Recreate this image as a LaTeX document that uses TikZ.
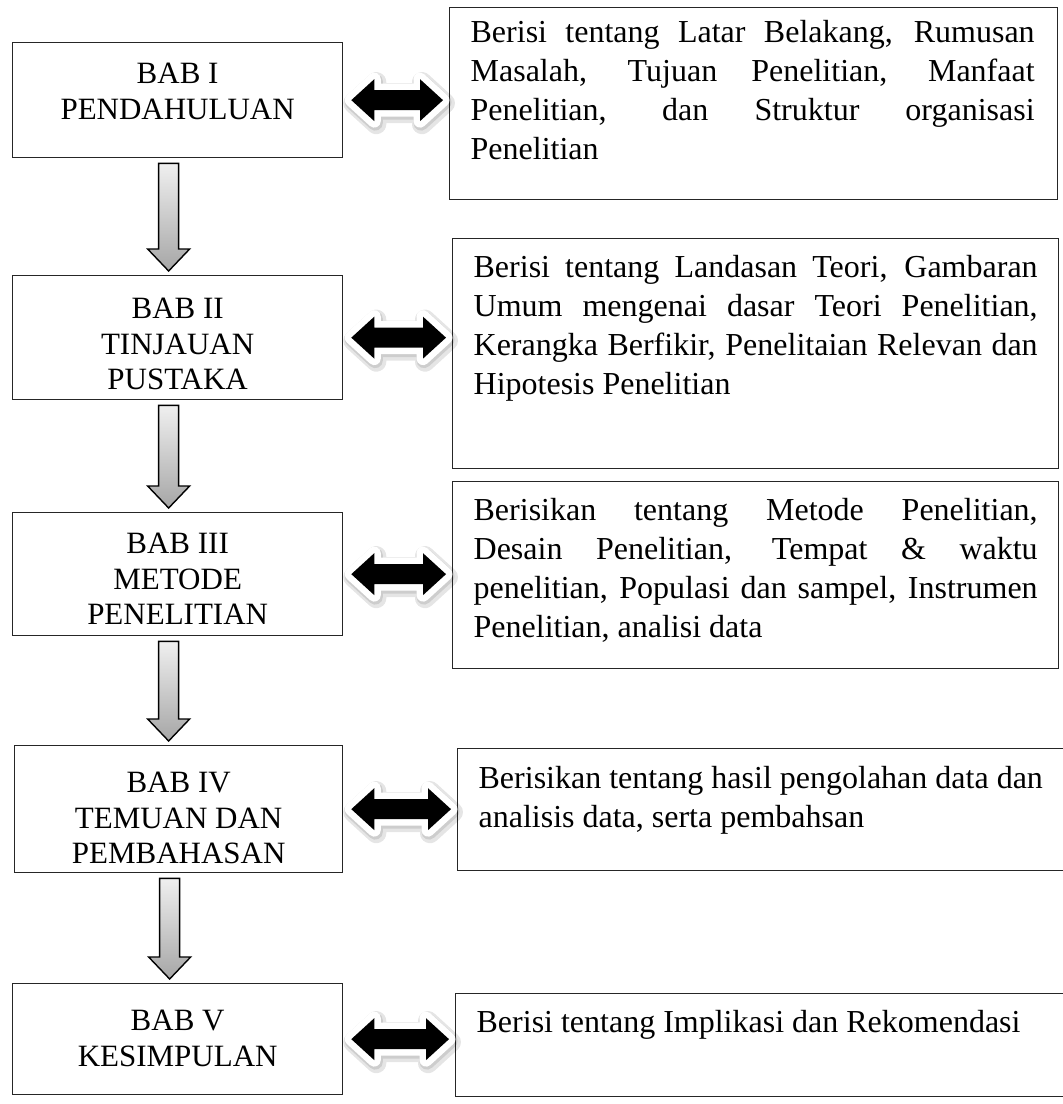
\documentclass[tikz,border=0pt]{standalone}
\usepackage{fontspec}
\setmainfont{Liberation Serif}
\usetikzlibrary{calc}
\newcommand{\jl}[1]{\makebox[564pt][s]{#1}}
\newcommand{\ltext}[2]{\centering\fontsize{31}{35.5}\selectfont\rule{0pt}{#1}#2}
\newcommand{\rtext}[2]{\raggedright\leftskip=21pt\fontsize{32}{38.8}\selectfont\rule{0pt}{#1}#2}
\newcommand{\dblarrow}[2]{%
  \path[dbl] let \p1=(#1.east), \p2=(#2.west) in
   (\x1+8pt,\y1) -- (\x1+31pt,\y1+21pt) -- (\x1+31pt,\y1+10pt) -- (\x2-29pt,\y1+10pt)
   -- (\x2-29pt,\y1+21pt) -- (\x2-6pt,\y1) -- (\x2-29pt,\y1-21pt) -- (\x2-29pt,\y1-10pt)
   -- (\x1+31pt,\y1-10pt) -- (\x1+31pt,\y1-21pt) -- cycle;}
\newcommand{\grayarrow}[2]{%
  \path[darr] let \p1=(#1.south), \p2=(#2.north) in
   (\x1-19pt,\y1-5pt) -- (\x1+1pt,\y1-5pt) -- (\x1+1pt,\y2+26pt) -- (\x1+12pt,\y2+26pt)
   -- (\x1-9pt,\y2+4pt) -- (\x1-30pt,\y2+26pt) -- (\x1-19pt,\y2+26pt) -- cycle;}
\begin{document}
\begin{tikzpicture}[x=1pt,y=-1pt,
  lbox/.style={draw=black!85, line width=1.3pt, inner sep=0pt, anchor=north west},
  rbox/.style={draw=black!85, line width=1.3pt, inner sep=0pt, anchor=north west},
  dbl/.style={fill=black,
    preaction={draw=black, opacity=0.10, line width=20pt, line join=round, transform canvas={shift={(2pt,-3pt)}}},
    preaction={draw=black, opacity=0.10, line width=15pt, line join=round, transform canvas={shift={(1pt,-2pt)}}},
    preaction={draw=white, line width=13pt, line join=round}},
  darr/.style={draw=black, line width=1.4pt, line join=miter, top color=black!6, bottom color=black!35}
]
\fill[white] (0,0) rectangle (1063,1104);
\useasboundingbox (0,0) rectangle (1063,1104);

% left column
\node[lbox] (L1) at (12,42)  {\parbox[t][115pt][t]{330pt}{\ltext{41pt}{BAB I\\PENDAHULUAN}}};
\node[lbox] (L2) at (12,275) {\parbox[t][124pt][t]{330pt}{\ltext{43pt}{BAB II\\TINJAUAN\\PUSTAKA}}};
\node[lbox] (L3) at (12,512) {\parbox[t][123pt][t]{330pt}{\ltext{41pt}{BAB III\\METODE\\PENELITIAN}}};
\node[lbox] (L4) at (14,745) {\parbox[t][127pt][t]{328pt}{\ltext{47pt}{BAB IV\\TEMUAN DAN\\PEMBAHASAN}}};
\node[lbox] (L5) at (12,983) {\parbox[t][111pt][t]{330pt}{\ltext{47pt}{BAB V\\KESIMPULAN}}};

% right column
\node[rbox] (R1) at (449,7) {\parbox[t][192pt][t]{608pt}{\rtext{35pt}{%
  \jl{Berisi tentang Latar Belakang, Rumusan}\\
  \jl{Masalah, Tujuan Penelitian, Manfaat}\\
  \jl{Penelitian, dan Struktur organisasi}\\
  Penelitian}}};
\node[rbox] (R2) at (452,238) {\parbox[t][230pt][t]{606pt}{\rtext{39pt}{%
  \jl{Berisi tentang Landasan Teori, Gambaran}\\
  \jl{Umum mengenai dasar Teori Penelitian,}\\
  \jl{Kerangka Berfikir, Penelitaian Relevan dan}\\
  Hipotesis Penelitian}}};
\node[rbox] (R3) at (452,481) {\parbox[t][187pt][t]{606pt}{\rtext{39pt}{%
  \jl{Berisikan tentang Metode Penelitian,}\\
  \jl{Desain Penelitian, Tempat \& waktu}\\
  \jl{penelitian, Populasi dan sampel, Instrumen}\\
  Penelitian, analisi data}}};
\node[rbox] (R4) at (457,748) {\parbox[t][122pt][t]{606pt}{\rtext{40pt}{%
  Berisikan tentang hasil pengolahan data dan\\
  analisis data, serta pembahsan}}};
\node[rbox] (R5) at (455,993) {\parbox[t][103pt][t]{608pt}{\rtext{39pt}{%
  Berisi tentang Implikasi dan Rekomendasi}}};

% down arrows
\grayarrow{L1}{L2}
\grayarrow{L2}{L3}
\grayarrow{L3}{L4}
\grayarrow{L4}{L5}

% double arrows
\dblarrow{L1}{R1}
\dblarrow{L2}{R2}
\dblarrow{L3}{R3}
\dblarrow{L4}{R4}
\dblarrow{L5}{R5}
\end{tikzpicture}
\end{document}
